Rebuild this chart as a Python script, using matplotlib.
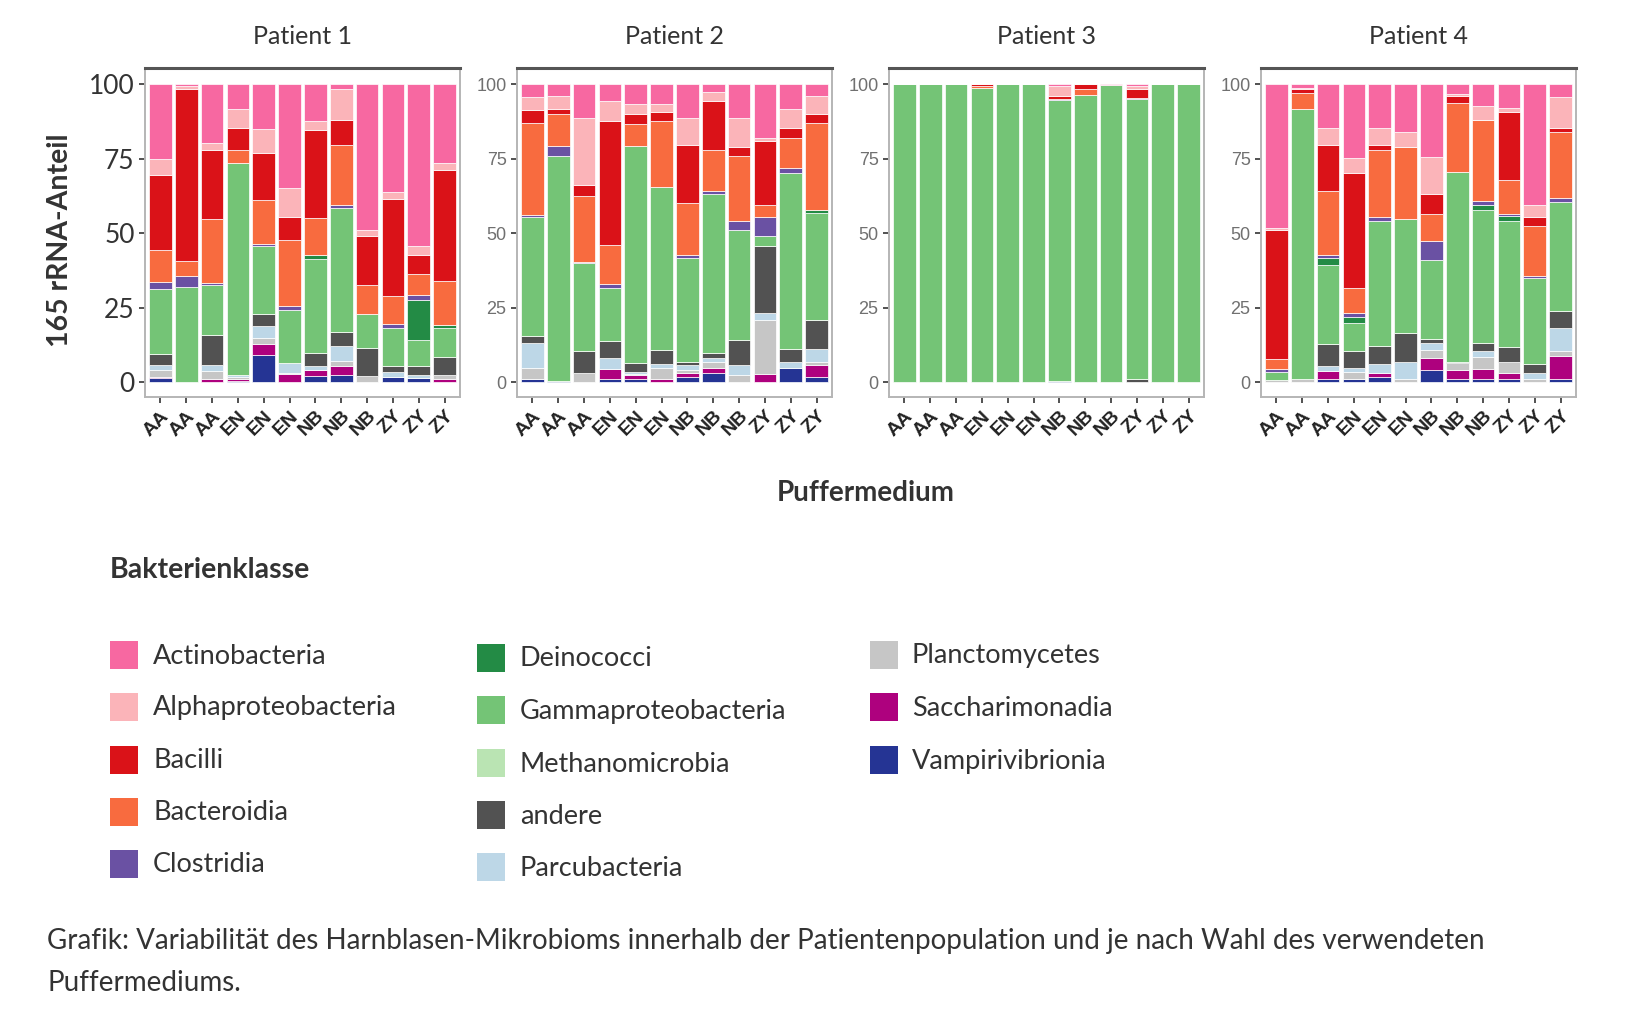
import matplotlib
matplotlib.use("Agg")
import matplotlib.pyplot as plt
from matplotlib.patches import Rectangle
import numpy as np

plt.rcParams['font.family'] = ['Lato', 'DejaVu Sans']

classes = ['Actinobacteria', 'Alphaproteobacteria', 'Bacilli', 'Bacteroidia',
           'Clostridia', 'Deinococci', 'Gammaproteobacteria', 'Methanomicrobia',
           'andere', 'Parcubacteria', 'Planctomycetes', 'Saccharimonadia',
           'Vampirivibrionia']
colors = ['#F768A1', '#FBB4B9', '#DA1218', '#F86B3F', '#6A51A3', '#238B45',
          '#74C476', '#BAE4B3', '#525252', '#BDD7E7', '#C6C6C6', '#AE017E',
          '#253494']
media = ['AA', 'AA', 'AA', 'EN', 'EN', 'EN', 'NB', 'NB', 'NB', 'ZY', 'ZY', 'ZY']
patients = ['Patient 1', 'Patient 2', 'Patient 3', 'Patient 4']

# one row per sample, columns in the order of `classes`
patient1 = [
    [25.2, 5.1, 25.4, 10.8, 2.3, 0, 21.6, 0, 3.7, 1.9, 2.3, 0.4, 1.3],
    [0.7, 1.0, 57.7, 5.1, 3.5, 0, 32.0, 0, 0, 0, 0, 0, 0],
    [19.6, 2.3, 23.2, 21.6, 0.8, 0, 16.6, 0, 10.1, 2.2, 2.5, 1.1, 0],
    [8.4, 6.2, 7.3, 4.4, 0, 0, 71.2, 0, 0, 0.8, 0.5, 0.7, 0.5],
    [15.0, 8.2, 15.5, 15.0, 0.5, 0, 23.0, 0, 3.9, 4.0, 2.2, 3.5, 9.2],
    [34.8, 9.7, 7.9, 22.2, 1.1, 0, 17.9, 0, 0, 3.4, 0.4, 2.4, 0.2],
    [12.3, 3.0, 29.7, 12.4, 0, 1.1, 31.6, 0, 4.5, 1.2, 0.1, 2.2, 1.9],
    [1.7, 10.3, 8.4, 20.2, 0.9, 0, 41.8, 0, 4.7, 5.0, 1.6, 2.9, 2.5],
    [48.8, 2.2, 16.3, 9.7, 0, 0, 11.6, 0, 9.5, 0, 1.9, 0, 0],
    [36.2, 2.3, 32.5, 9.4, 1.4, 0, 12.9, 0, 2.0, 1.7, 0, 0, 1.6],
    [54.4, 2.8, 6.4, 7.3, 1.4, 13.5, 8.9, 0, 2.8, 1.2, 0, 0, 1.3],
    [26.3, 2.5, 37.3, 14.8, 0, 0.9, 9.6, 0, 6.1, 0, 1.5, 1.0, 0],
]
patient2 = [
    [4.1, 4.4, 4.5, 30.9, 0.5, 0, 40.2, 0, 2.2, 8.6, 3.7, 0, 0.9],
    [4.0, 4.2, 1.9, 10.7, 3.3, 0, 75.6, 0, 0, 0, 0, 0, 0.3],
    [11.2, 22.6, 3.7, 22.0, 0.5, 0, 29.6, 0, 7.3, 0, 3.1, 0, 0],
    [5.6, 6.7, 41.6, 13.2, 1.4, 0, 17.7, 0, 5.6, 3.9, 0, 3.1, 1.2],
    [6.7, 3.1, 3.4, 7.6, 0, 0, 72.9, 0, 2.8, 0.7, 0.5, 1.1, 1.2],
    [6.7, 2.5, 3.1, 22.3, 0, 0, 54.6, 0, 4.7, 1.2, 4.0, 0.9, 0],
    [11.2, 9.3, 19.3, 17.4, 1.2, 0, 34.8, 0, 1.1, 1.5, 1.1, 1.3, 1.8],
    [2.6, 3.0, 16.3, 14.0, 0.8, 0, 53.6, 0, 1.7, 1.1, 2.3, 1.7, 2.9],
    [11.4, 9.5, 3.2, 21.7, 3.0, 0, 37.1, 0, 8.4, 3.3, 2.4, 0, 0],
    [18.0, 1.1, 21.3, 4.3, 6.1, 0, 3.6, 0, 22.5, 2.2, 18.1, 2.8, 0],
    [8.4, 6.2, 3.4, 10.1, 1.6, 0, 59.3, 0, 4.2, 2.2, 0, 0, 4.6],
    [3.9, 6.2, 3.0, 29.0, 0, 1.1, 36.1, 0, 9.7, 4.2, 1.1, 3.9, 1.8],
]
patient3 = [
    [0, 0, 0, 0, 0, 0, 100.0, 0, 0, 0, 0, 0, 0],
    [0, 0, 0, 0, 0, 0, 100.0, 0, 0, 0, 0, 0, 0],
    [0, 0, 0, 0, 0, 0, 100.0, 0, 0, 0, 0, 0, 0],
    [0, 0, 0.5, 0.6, 0, 0, 98.9, 0, 0, 0, 0, 0, 0],
    [0, 0, 0, 0, 0, 0, 100.0, 0, 0, 0, 0, 0, 0],
    [0, 0, 0, 0, 0, 0, 100.0, 0, 0, 0, 0, 0, 0],
    [0.5, 3.4, 1.1, 0, 0.3, 0, 94.2, 0, 0, 0, 0, 0, 0.5],
    [0, 0, 1.7, 2.0, 0, 0, 96.3, 0, 0, 0, 0, 0, 0],
    [0.3, 0, 0, 0, 0, 0, 99.7, 0, 0, 0, 0, 0, 0],
    [0.7, 1.0, 2.8, 0, 0.5, 0, 93.8, 0, 1.2, 0, 0, 0, 0],
    [0, 0, 0, 0, 0, 0, 100.0, 0, 0, 0, 0, 0, 0],
    [0, 0, 0, 0, 0, 0, 100.0, 0, 0, 0, 0, 0, 0],
]
patient4 = [
    [48.3, 0.5, 43.5, 3.4, 0.8, 0, 2.8, 0, 0, 0, 0.7, 0, 0],
    [1.1, 0.6, 1.1, 5.4, 0.2, 0, 90.4, 0, 0, 0, 1.2, 0, 0],
    [14.6, 5.9, 15.4, 21.3, 1.2, 2.2, 26.6, 0, 7.4, 1.6, 0, 2.6, 1.2],
    [24.7, 5.0, 38.8, 8.4, 1.1, 2.0, 9.5, 0, 5.6, 1.5, 2.2, 0, 1.2],
    [14.5, 6.0, 1.6, 22.5, 1.4, 0, 41.9, 0, 6.0, 3.2, 0, 1.1, 1.8],
    [16.0, 5.0, 0, 24.2, 0, 0, 38.2, 0, 9.8, 5.6, 1.2, 0, 0],
    [24.4, 12.3, 6.7, 9.1, 6.4, 0, 26.7, 0, 1.4, 2.2, 2.8, 4.0, 4.0],
    [3.2, 0.8, 2.3, 23.1, 0, 0, 63.7, 0, 0.6, 0, 2.3, 2.8, 1.2],
    [7.3, 4.5, 0, 27.5, 1.1, 1.7, 44.9, 0, 2.5, 2.0, 4.2, 3.1, 1.2],
    [7.9, 1.4, 22.9, 11.2, 0.9, 1.7, 42.1, 0, 5.1, 0, 3.7, 1.9, 1.2],
    [40.4, 4.2, 3.1, 16.6, 0.8, 0, 28.8, 0, 3.2, 1.7, 1.2, 0, 0],
    [4.2, 10.4, 1.4, 22.1, 1.5, 0, 36.4, 0, 5.9, 7.6, 1.7, 7.6, 1.2],
]
all_data = [patient1, patient2, patient3, patient4]
yticks = [0, 25, 50, 75, 100]

W, H = 1637, 1017
fig = plt.figure(figsize=(W / 100, H / 100), dpi=100)
fig.patch.set_facecolor('white')

ax_left = [145, 517, 889, 1261]
ax_w = 315
ax_top, ax_bot = 68, 397

x = np.arange(1, len(media) + 1)
for i, (name, data) in enumerate(zip(patients, all_data)):
    ax = fig.add_axes([ax_left[i] / W, 1 - ax_bot / H, ax_w / W, (ax_bot - ax_top) / H])
    vals = np.array(data)
    bottom = np.zeros(len(media))
    # ggplot stacks the first level on top, so draw from the last class upwards
    for k in range(len(classes) - 1, -1, -1):
        ax.bar(x, vals[:, k], bottom=bottom, width=0.88, color=colors[k],
               edgecolor='white', linewidth=0.5)
        bottom += vals[:, k]
    ax.set_xlim(0.4, 12.6)
    ax.set_ylim(-5, 105.5)
    ax.set_xticks(x)
    ax.set_xticklabels(media, rotation=45, ha='right', va='top',
                       rotation_mode='anchor', fontsize=14, color='#222222',
                       family=['Liberation Sans', 'DejaVu Sans'], fontweight='bold')
    ax.set_yticks(yticks)
    if i == 0:
        ax.set_yticklabels([str(t) for t in yticks], fontsize=19, color='#333333')
    else:
        ax.set_yticklabels([str(t) for t in yticks], fontsize=13, color='#707070',
                           family=['Liberation Sans', 'DejaVu Sans'])
    ax.tick_params(axis='both', length=4, width=1.2, color='#333333')
    for s in ['left', 'right', 'bottom']:
        ax.spines[s].set_color('#b5b5b5')
        ax.spines[s].set_linewidth(1.4)
    ax.spines['top'].set_color('#555555')
    ax.spines['top'].set_linewidth(2.2)
    fig.text((ax_left[i] + ax_w / 2) / W, 1 - 37 / H, name, ha='center', va='center',
             fontsize=18, color='#333333')

fig.text(60 / W, 1 - 240 / H, '165 rRNA-Anteil', rotation=90, ha='center', va='center',
         fontsize=20.5, fontweight='bold', color='#333333')
fig.text(866 / W, 1 - 493 / H, 'Puffermedium', ha='center', va='center',
         fontsize=20, fontweight='bold', color='#333333')

# legend
fig.text(110 / W, 1 - 570 / H, 'Bakterienklasse', ha='left', va='center',
         fontsize=20.5, fontweight='bold', color='#333333')
col_patch_x = [110, 477, 870]
col_text_x = [153, 520, 912]
row_y = [655, 707, 760, 812, 864]
for k, (cls, col) in enumerate(zip(classes, colors)):
    c, r = divmod(k, 5)
    yc = row_y[r] + (3 if c == 1 else 0)
    fig.patches.append(Rectangle((col_patch_x[c] / W, 1 - (yc + 14) / H), 28 / W, 28 / H,
                                 transform=fig.transFigure, facecolor=col,
                                 edgecolor='none'))
    fig.text(col_text_x[c] / W, 1 - (yc + 1) / H, cls, ha='left', va='center',
             fontsize=19.5, color='#333333')

fig.text(47 / W, 1 - 941 / H,
         'Grafik: Variabilität des Harnblasen-Mikrobioms innerhalb der Patientenpopulation '
         'und je nach Wahl des verwendeten',
         ha='left', va='center', fontsize=20, color='#333333')
fig.text(47 / W, 1 - 983 / H, 'Puffermediums.', ha='left', va='center',
         fontsize=20, color='#333333')

fig.savefig('out.png', dpi=100, facecolor='white')
